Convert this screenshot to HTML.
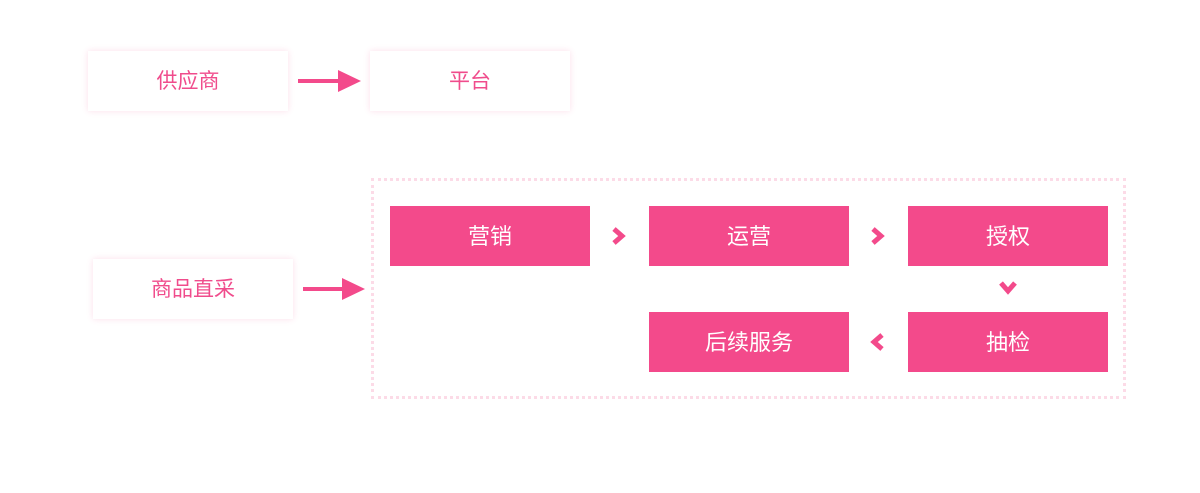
<!DOCTYPE html>
<html><head><meta charset="utf-8"><style>
body{margin:0;width:1200px;height:493px;background:#fff;position:relative;font-family:"Liberation Sans","Noto Sans CJK SC",sans-serif;overflow:hidden}
.w{position:absolute;width:200px;height:60px;background:#fff;box-shadow:0 0 6px rgba(243,74,138,0.18);color:#f04c8c;font-size:21px;line-height:62px;text-align:center}
.p{position:absolute;width:200px;height:60px;background:#f34a8b;color:#fff;font-size:22px;line-height:62px;text-align:center}
.dot{position:absolute;left:371px;top:178px;width:749px;height:215px;border:3px dotted #fcdbe7}
svg{position:absolute;left:0;top:0}
</style></head><body>
<div class="w" style="left:88px;top:51px">供应商</div>
<div class="w" style="left:370px;top:51px">平台</div>
<div class="w" style="left:93px;top:259px">商品直采</div>
<div class="dot"></div>
<div class="p" style="left:390px;top:206px">营销</div>
<div class="p" style="left:649px;top:206px">运营</div>
<div class="p" style="left:908px;top:206px">授权</div>
<div class="p" style="left:908px;top:312px">抽检</div>
<div class="p" style="left:649px;top:312px">后续服务</div>
<svg width="1200" height="493">
<g fill="#f34a8b" stroke="#f34a8b">
<line x1="298" y1="81" x2="342" y2="81" stroke-width="4"/>
<polygon points="338,70 361,81 338,92" stroke="none"/>
<line x1="303" y1="289" x2="346" y2="289" stroke-width="4"/>
<polygon points="342,278 365,289 342,300" stroke="none"/>
</g>
<g fill="none" stroke="#f34a8b" stroke-width="5">
<polyline points="614,229 622,236 614,243"/>
<polyline points="873,229 881,236 873,243"/>
<polyline points="1001,283 1008,291 1015,283"/>
<polyline points="882,335 874,342 882,349"/>
</g>
</svg>
</body></html>
